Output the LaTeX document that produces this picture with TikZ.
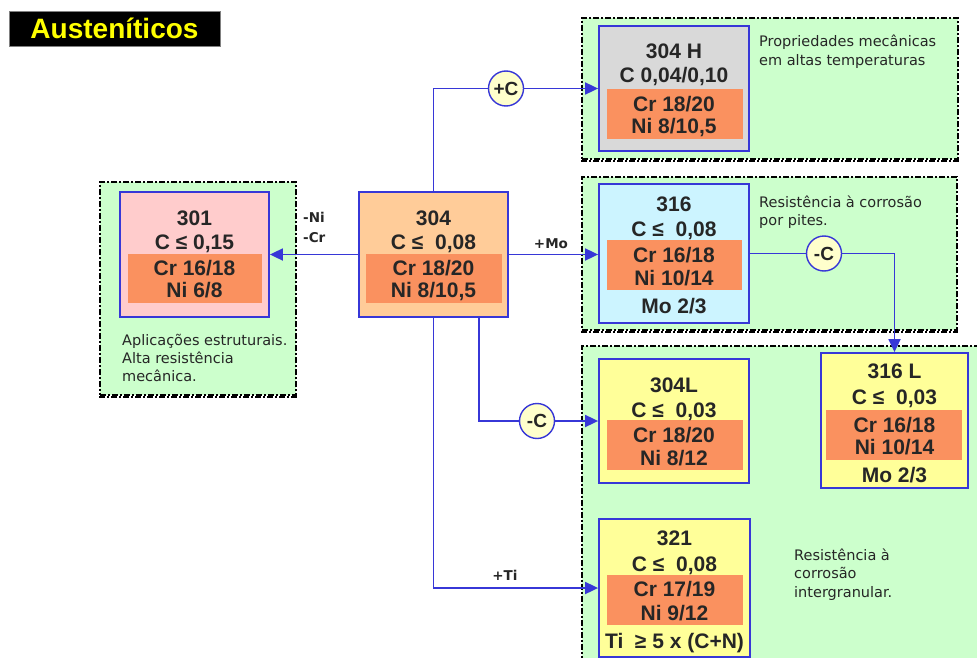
\documentclass[tikz,border=0pt]{standalone}
\usepackage{fontspec}
\setmainfont{Liberation Sans}
\newfontfamily\dvs{DejaVu Sans}
\newfontfamily\lib{Liberation Sans}
\usetikzlibrary{arrows.meta}
\definecolor{grp}{RGB}{204,255,204}
\definecolor{bx}{RGB}{55,55,215}
\definecolor{innerc}{RGB}{250,145,95}
\definecolor{peach}{RGB}{255,204,153}
\definecolor{pinkc}{RGB}{255,204,204}
\definecolor{gry}{RGB}{217,217,217}
\definecolor{cyn}{RGB}{204,244,255}
\definecolor{ylw}{RGB}{255,255,153}
\definecolor{circc}{RGB}{255,255,204}
\definecolor{txt}{RGB}{38,38,38}
\definecolor{ttl}{RGB}{255,255,0}
\tikzset{
 grpbox/.style={fill=grp, draw=black, line width=1.3pt, dash pattern=on 6pt off 2pt on 2pt off 2pt},
 grpshadow/.style={draw=black, line width=2.4pt, dash pattern=on 6pt off 2pt on 2pt off 2pt},
 alloy/.style={draw=bx, line width=1.8pt, inner sep=0pt},
 innerbox/.style={fill=innerc, draw=none, inner sep=0pt},
 bt/.style={font=\lib\bfseries\fontsize{21}{24}\selectfont, text=txt, anchor=base, inner sep=0pt},
 desc/.style={font=\dvs\fontsize{14.5}{18}\selectfont, text=txt, anchor=base west, inner sep=0pt},
 lbl/.style={font=\dvs\bfseries\fontsize{13.5}{16}\selectfont, text=txt, anchor=base, inner sep=0pt},
 conn/.style={draw=bx, line width=1.8pt},
 arr/.style={conn, -{Triangle[length=13pt,width=12pt]}},
 opcirc/.style={circle, draw=bx, line width=1.4pt, fill=circc, minimum size=35pt, inner sep=0pt, font=\lib\bfseries\fontsize{19}{19}\selectfont, text=txt},
}
\newcommand\alloyline[4]{\node[bt] (#1) at (#2,#3) {#4};}
\begin{document}
\begin{tikzpicture}[x=1pt,y=-1pt]
\useasboundingbox[fill=white] (0,0) rectangle (977,658);

% groups
\node[grpbox, minimum width=196pt, minimum height=213pt] (g301) at (198,288.5) {};
\node[grpbox, minimum width=376pt, minimum height=141pt] (g304H) at (770,88.5) {};
\node[grpbox, minimum width=375pt, minimum height=153pt] (g316) at (769.5,253.5) {};
\node[grpbox, minimum width=418pt, minimum height=354pt] (gbot) at (791,523) {};
\draw[grpshadow] ([yshift=-1.2pt]g301.south west) -- ([yshift=-1.2pt]g301.south east);
\draw[grpshadow] ([yshift=-1.2pt]g304H.south west) -- ([yshift=-1.2pt]g304H.south east);
\draw[grpshadow] ([yshift=-1.2pt]g316.south west) -- ([yshift=-1.2pt]g316.south east);

% title
\node[fill=black, draw=gray, line width=0.6pt, minimum width=211pt, minimum height=35pt, inner sep=0pt, text=ttl, font=\lib\bfseries\fontsize{28}{28}\selectfont] (title) at (114.5,28.5) {Austeníticos};

% alloy boxes
\node[alloy, fill=pinkc, minimum width=149pt, minimum height=125pt] (b301) at (194.5,254.5) {};
\node[innerbox, minimum width=134pt, minimum height=49pt] (i301) at (195,278.5) {};
\node[alloy, fill=peach, minimum width=149pt, minimum height=125pt] (b304) at (433.5,254.5) {};
\node[innerbox, minimum width=136pt, minimum height=49pt] (i304) at (434,278.5) {};
\node[alloy, fill=gry, minimum width=150pt, minimum height=125pt] (b304H) at (674,88.5) {};
\node[innerbox, minimum width=136pt, minimum height=50pt] (i304H) at (675,114) {};
\node[alloy, fill=cyn, minimum width=150pt, minimum height=139pt] (b316) at (674,253.5) {};
\node[innerbox, minimum width=135pt, minimum height=50pt] (i316) at (674.5,265) {};
\node[alloy, fill=ylw, minimum width=150pt, minimum height=124pt] (b304L) at (674,421) {};
\node[innerbox, minimum width=136pt, minimum height=50pt] (i304L) at (675,445) {};
\node[alloy, fill=ylw, minimum width=147pt, minimum height=135pt] (b316L) at (894.5,420.5) {};
\node[innerbox, minimum width=136pt, minimum height=50pt] (i316L) at (894,435) {};
\node[alloy, fill=ylw, minimum width=151pt, minimum height=138pt] (b321) at (674.5,588) {};
\node[innerbox, minimum width=136pt, minimum height=50pt] (i321) at (675,600) {};

% box texts
\alloyline{t301a}{194.5}{225}{301}
\alloyline{t301b}{194.5}{249}{C ≤ 0,15}
\alloyline{t301c}{194.5}{275}{Cr 16/18}
\alloyline{t301d}{194.5}{297}{Ni 6/8}

\alloyline{t304a}{433.5}{225}{304}
\alloyline{t304b}{433.5}{249}{C ≤\ \ 0,08}
\alloyline{t304c}{433.5}{275}{Cr 18/20}
\alloyline{t304d}{433.5}{297}{Ni 8/10,5}

\alloyline{t304Ha}{674}{59}{304 H}
\alloyline{t304Hb}{674}{83}{C 0,04/0,10}
\alloyline{t304Hc}{674}{112}{Cr 18/20}
\alloyline{t304Hd}{674}{134}{Ni 8/10,5}

\alloyline{t316a}{674}{211}{316}
\alloyline{t316b}{674}{236}{C ≤\ \ 0,08}
\alloyline{t316c}{674}{262}{Cr 16/18}
\alloyline{t316d}{674}{285}{Ni 10/14}
\alloyline{t316e}{674}{313}{Mo 2/3}

\alloyline{t316La}{894.5}{378}{316 L}
\alloyline{t316Lb}{894.5}{404}{C ≤\ \ 0,03}
\alloyline{t316Lc}{894.5}{432}{Cr 16/18}
\alloyline{t316Ld}{894.5}{454}{Ni 10/14}
\alloyline{t316Le}{894.5}{482}{Mo 2/3}

\alloyline{t304La}{674}{392}{304L}
\alloyline{t304Lb}{674}{417}{C ≤\ \ 0,03}
\alloyline{t304Lc}{674}{442}{Cr 18/20}
\alloyline{t304Ld}{674}{465}{Ni 8/12}

\alloyline{t321a}{674.5}{545}{321}
\alloyline{t321b}{674.5}{571}{C ≤\ \ 0,08}
\alloyline{t321c}{674.5}{596}{Cr 17/19}
\alloyline{t321d}{674.5}{620}{Ni 9/12}
\alloyline{t321e}{674.5}{648}{Ti\ \ ≥ 5 x (C+N)}

% operation circles
\node[opcirc] (cC1) at (506,88.5) {+C};
\node[opcirc] (cC2) at (537,421) {-C};
\node[opcirc] (cC3) at (824,253.5) {-C};

% connectors
\draw[arr] (b304.west) -- (b301.east);
\draw[arr] (b304.east) -- (b304.east -| b316.west);
\draw[conn] (b304.north) |- (cC1.west);
\draw[arr] (cC1.east) -- (b304H.west);
\coordinate (d1) at ([xshift=45.5pt]b304.south);
\draw[conn] (d1) |- (cC2.west);
\draw[arr] (cC2.east) -- (b304L.west);
\draw[arr] (b304.south) |- (b321.west);
\draw[conn] (b316.east) -- (cC3.west);
\draw[arr] (cC3.east) -| (b316L.north);

% connector labels
\node[lbl, anchor=base west] (lNi) at (303,222) {-Ni};
\node[lbl, anchor=base west] (lCr) at (303,242) {-Cr};
\node[lbl] (lMo) at (551,248) {+Mo};
\node[lbl] (lTi) at (505,580) {+Ti};

% descriptions
\node[desc] (d301a) at (122,345) {Aplicações estruturais.};
\node[desc] (d301b) at (122,363) {Alta resistência};
\node[desc] (d301c) at (122,381) {mecânica.};
\node[desc] (dHa) at (759,47) {Propriedades mecânicas};
\node[desc] (dHb) at (759,66) {em altas temperaturas};
\node[desc] (d316a) at (759,207) {Resistência à corrosão};
\node[desc] (d316b) at (759,225) {por pites.};
\node[desc] (d321a) at (794,560) {Resistência à};
\node[desc] (d321b) at (794,578) {corrosão};
\node[desc] (d321c) at (794,597) {intergranular.};
\end{tikzpicture}
\end{document}
